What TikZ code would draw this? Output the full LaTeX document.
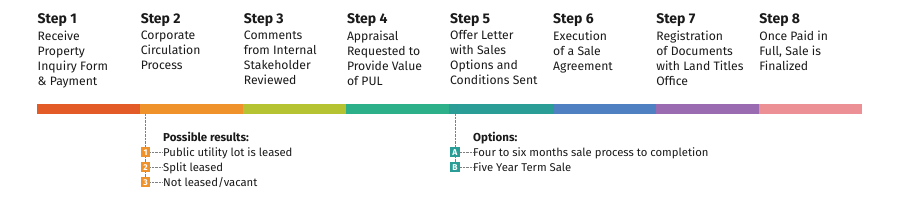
\documentclass[tikz,border=0pt]{standalone}
\usepackage{fontspec}
\setmainfont{Fira Sans}
\usetikzlibrary{positioning}
\definecolor{cOne}{HTML}{E35B26}
\definecolor{cTwo}{HTML}{F0922B}
\definecolor{cThree}{HTML}{B5C232}
\definecolor{cFour}{HTML}{2BB08A}
\definecolor{cFive}{HTML}{2A9D96}
\definecolor{cSix}{HTML}{4E80C2}
\definecolor{cSeven}{HTML}{9A6BB0}
\definecolor{cEight}{HTML}{EC9096}
\definecolor{txt}{HTML}{1A1A1A}
\tikzset{
  seg/.style      = {rectangle, inner sep=0pt, outer sep=0pt,
                     minimum width=103.1pt, minimum height=10pt},
  stephead/.style = {anchor=base west, inner sep=0pt, text=txt,
                     font=\fontsize{14}{16}\selectfont\bfseries},
  stepbody/.style = {anchor=north west, inner sep=0pt, text=txt,
                     align=left, font=\fontsize{12.2}{15}\selectfont},
  listhead/.style = {anchor=base west, inner sep=0pt, text=txt,
                     font=\fontsize{11.5}{15}\selectfont\bfseries},
  listitem/.style = {anchor=base west, inner sep=0pt, text=txt,
                     font=\fontsize{11.3}{15}\selectfont},
  badge/.style    = {rectangle, inner sep=0pt, minimum size=9.5pt,
                     text=white, font=\fontsize{8.5}{8.5}\selectfont\bfseries},
  dotline/.style  = {densely dotted, thin, draw=black!50},
}
\begin{document}
\begin{tikzpicture}[x=1pt, y=-1pt]
\useasboundingbox (0,0) rectangle (900,200);

%% ── Timeline bar ──────────────────────────────────────────
\node[seg, fill=cOne, anchor=north west] (seg1) at (37,104) {};
\node[seg, fill=cTwo,   right=0pt of seg1] (seg2) {};
\node[seg, fill=cThree, right=0pt of seg2] (seg3) {};
\node[seg, fill=cFour,  right=0pt of seg3] (seg4) {};
\node[seg, fill=cFive,  right=0pt of seg4] (seg5) {};
\node[seg, fill=cSix,   right=0pt of seg5] (seg6) {};
\node[seg, fill=cSeven, right=0pt of seg6] (seg7) {};
\node[seg, fill=cEight, right=0pt of seg7] (seg8) {};

%% ── Step headings ─────────────────────────────────────────
\node[stephead] (h1) at (37.5,23.3)  {Step 1};
\node[stephead] (h2) at (140.6,23.3) {Step 2};
\node[stephead] (h3) at (243.7,23.3) {Step 3};
\node[stephead] (h4) at (346.8,23.3) {Step 4};
\node[stephead] (h5) at (449.9,23.3) {Step 5};
\node[stephead] (h6) at (553.0,23.3) {Step 6};
\node[stephead] (h7) at (656.1,23.3) {Step 7};
\node[stephead] (h8) at (759.2,23.3) {Step 8};

%% ── Step texts ────────────────────────────────────────────
\node[stepbody] (b1) at (37.5,30.4)  {Receive\\Property\\Inquiry Form\\\& Payment};
\node[stepbody] (b2) at (140.6,30.4) {Corporate\\Circulation\\Process};
\node[stepbody] (b3) at (243.7,30.4) {Comments\\from Internal\\Stakeholder\\Reviewed};
\node[stepbody] (b4) at (346.8,30.4) {Appraisal\\Requested to\\Provide Value\\of PUL};
\node[stepbody] (b5) at (449.9,30.4) {Offer Letter\\with Sales\\Options and\\Conditions Sent};
\node[stepbody] (b6) at (553.0,30.4) {Execution\\of a Sale\\Agreement};
\node[stepbody] (b7) at (656.1,30.4) {Registration\\of Documents\\with Land Titles\\Office};
\node[stepbody] (b8) at (759.2,30.4) {Once Paid in\\Full, Sale is\\Finalized};

%% ── Possible results ──────────────────────────────────────
\node[listhead] (rhead) at (163,141.5) {Possible results:};
\node[badge, fill=cTwo] (r1) at (145.5,152.2) {1};
\node[badge, fill=cTwo] (r2) at (145.5,167.2) {2};
\node[badge, fill=cTwo] (r3) at (145.5,182.2) {3};
\node[listitem] (rt1) at (163,156.6) {Public utility lot is leased};
\node[listitem] (rt2) at (163,171.6) {Split leased};
\node[listitem] (rt3) at (163,186.6) {Not leased/vacant};

%% ── Options ───────────────────────────────────────────────
\node[listhead] (ohead) at (473,141.5) {Options:};
\node[badge, fill=cFive] (o1) at (455,152.2) {A};
\node[badge, fill=cFive] (o2) at (455,167.2) {B};
\node[listitem] (ot1) at (473,156.6) {Four to six months sale process to completion};
\node[listitem] (ot2) at (473,171.6) {Five Year Term Sale};

%% ── Dotted leaders: results ───────────────────────────────
\draw[dotline] (seg2.south -| r1) -- (r1.north);
\draw[dotline] (r1.south) -- (r2.north);
\draw[dotline] (r2.south) -- (r3.north);
\draw[dotline] (r1.east) -- (r1.east -| rt1.west);
\draw[dotline] (r2.east) -- (r2.east -| rt2.west);
\draw[dotline] (r3.east) -- (r3.east -| rt3.west);

%% ── Dotted leaders: options ───────────────────────────────
\draw[dotline] (seg5.south -| o1) -- (o1.north);
\draw[dotline] (o1.south) -- (o2.north);
\draw[dotline] (o1.east) -- (o1.east -| ot1.west);
\draw[dotline] (o2.east) -- (o2.east -| ot2.west);

\end{tikzpicture}
\end{document}
